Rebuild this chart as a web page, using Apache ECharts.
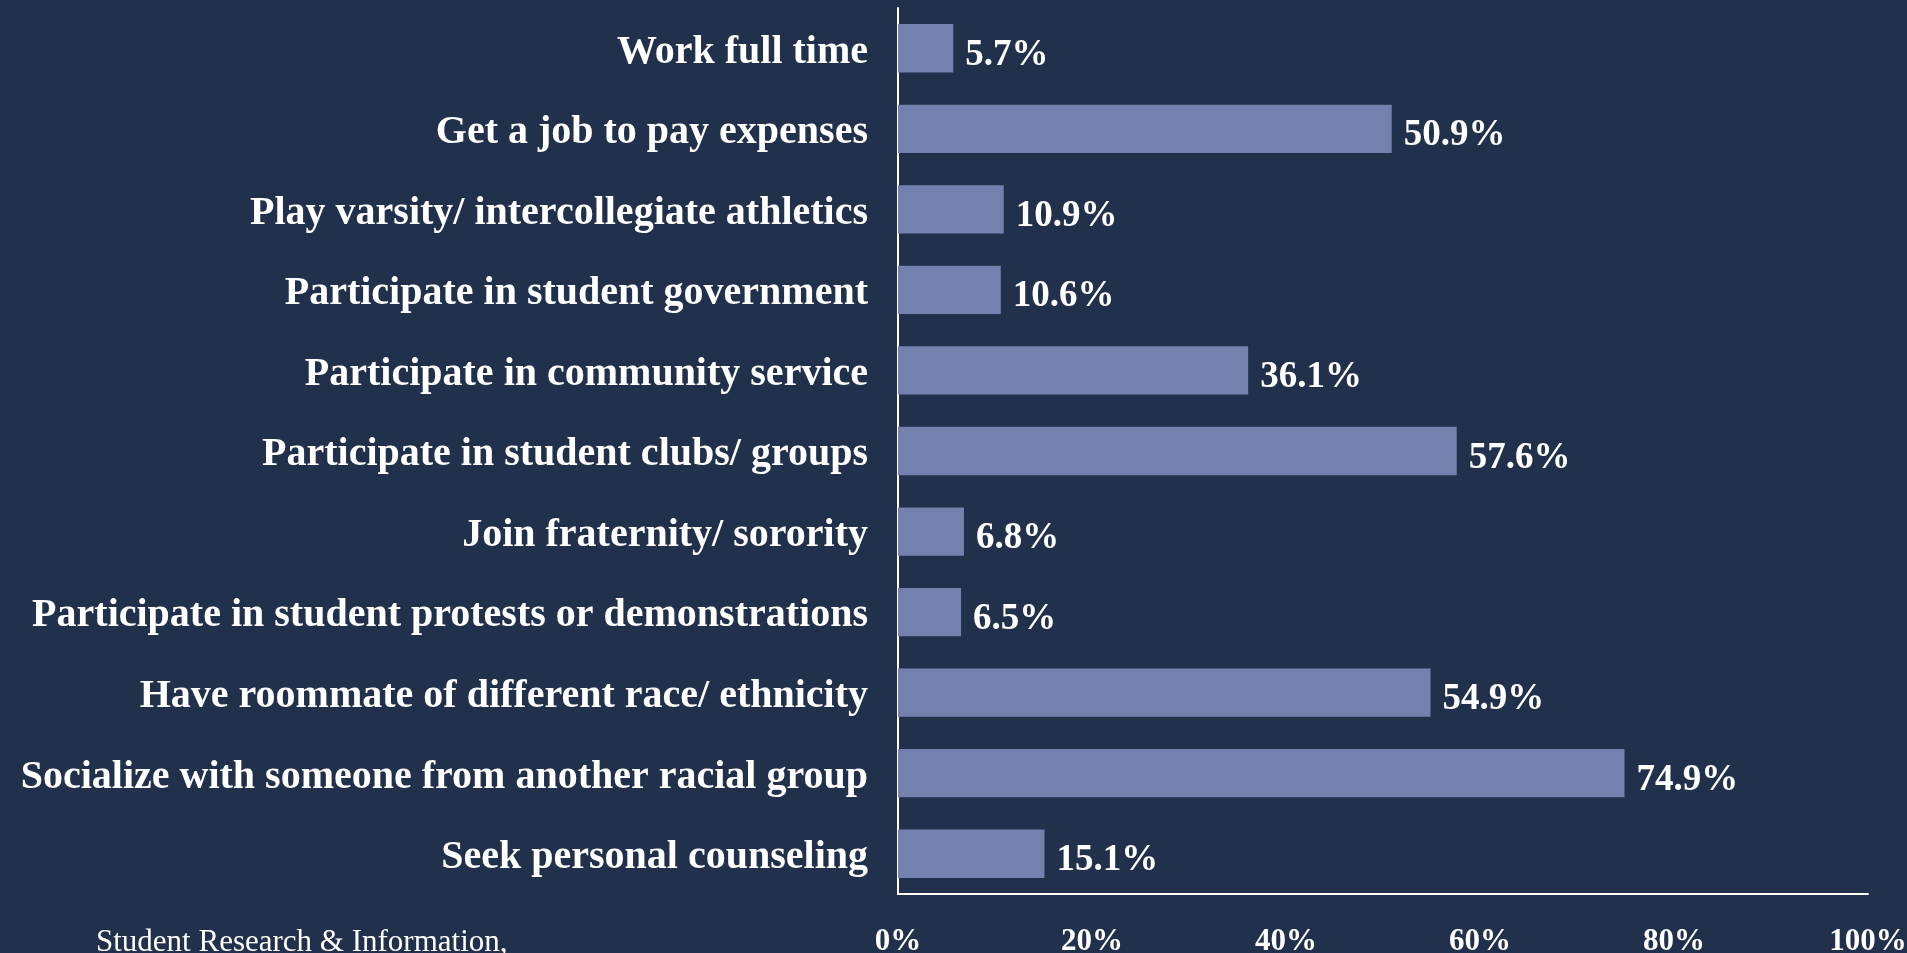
<!DOCTYPE html>
<html>
<head>
<meta charset="utf-8">
<script src="https://cdn.jsdelivr.net/npm/echarts@6/dist/echarts.min.js"></script>
<style>
  html, body { margin: 0; padding: 0; background: #21314c; }
  #chart { width: 1907px; height: 953px; }
</style>
</head>
<body>
<div id="chart"></div>
<script>
const categories = [
  'Work full time',
  'Get a job to pay expenses',
  'Play varsity/ intercollegiate athletics',
  'Participate in student government',
  'Participate in community service',
  'Participate in student clubs/ groups',
  'Join fraternity/ sorority',
  'Participate in student protests or demonstrations',
  'Have roommate of different race/ ethnicity',
  'Socialize with someone from another racial group',
  'Seek personal counseling'
]
const values = [5.7, 50.9, 10.9, 10.6, 36.1, 57.6, 6.8, 6.5, 54.9, 74.9, 15.1]
const tickLabels = ['0%', '20%', '40%', '60%', '80%', '100%']

const serif = '"Liberation Serif", "DejaVu Serif", serif'
const chart = echarts.init(document.getElementById('chart'))

const option = {
  backgroundColor: '#21314c',
  animation: false,
  grid: { left: 898, right: 39, top: 8, bottom: 59, containLabel: false, outerBoundsMode: 'none' },
  xAxis: {
    type: 'value',
    min: 0,
    max: 100,
    interval: 20,
    axisLine: { show: true, lineStyle: { color: '#ffffff', width: 2 } },
    axisTick: { show: false },
    splitLine: { show: false },
    axisLabel: {
      margin: 32,
      color: '#ffffff',
      fontFamily: serif,
      fontWeight: 'bold',
      fontSize: 31,
      formatter: function (value) {
        return tickLabels[Math.round(value / 20)]
      }
    }
  },
  yAxis: {
    type: 'category',
    inverse: true,
    data: categories,
    axisLine: { show: true, lineStyle: { color: '#ffffff', width: 2 } },
    axisTick: { show: false },
    axisLabel: {
      margin: 30,
      color: '#ffffff',
      fontFamily: serif,
      fontWeight: 'bold',
      fontSize: 40,
      formatter: function (value) {
        return '{c|' + value + '}'
      },
      rich: {
        c: {
          color: '#ffffff',
          fontFamily: serif,
          fontWeight: 'bold',
          fontSize: 40,
          padding: [8, 0, 0, 0]
        }
      }
    }
  },
  series: [
    {
      type: 'bar',
      data: values,
      barCategoryGap: '40%',
      itemStyle: { color: '#7480ad' },
      label: {
        show: true,
        position: 'right',
        distance: 12,
        offset: [0, 7],
        color: '#ffffff',
        fontFamily: serif,
        fontWeight: 'bold',
        fontSize: 37,
        formatter: function (p) {
          return p.value.toFixed(1) + '%'
        }
      }
    }
  ],
  graphic: [
    {
      type: 'text',
      left: 96,
      top: 927,
      style: {
        text: 'Student Research & Information,',
        fill: '#ffffff',
        font: '31px ' + serif
      }
    }
  ]
}
chart.setOption(option)
</script>
</body>
</html>
